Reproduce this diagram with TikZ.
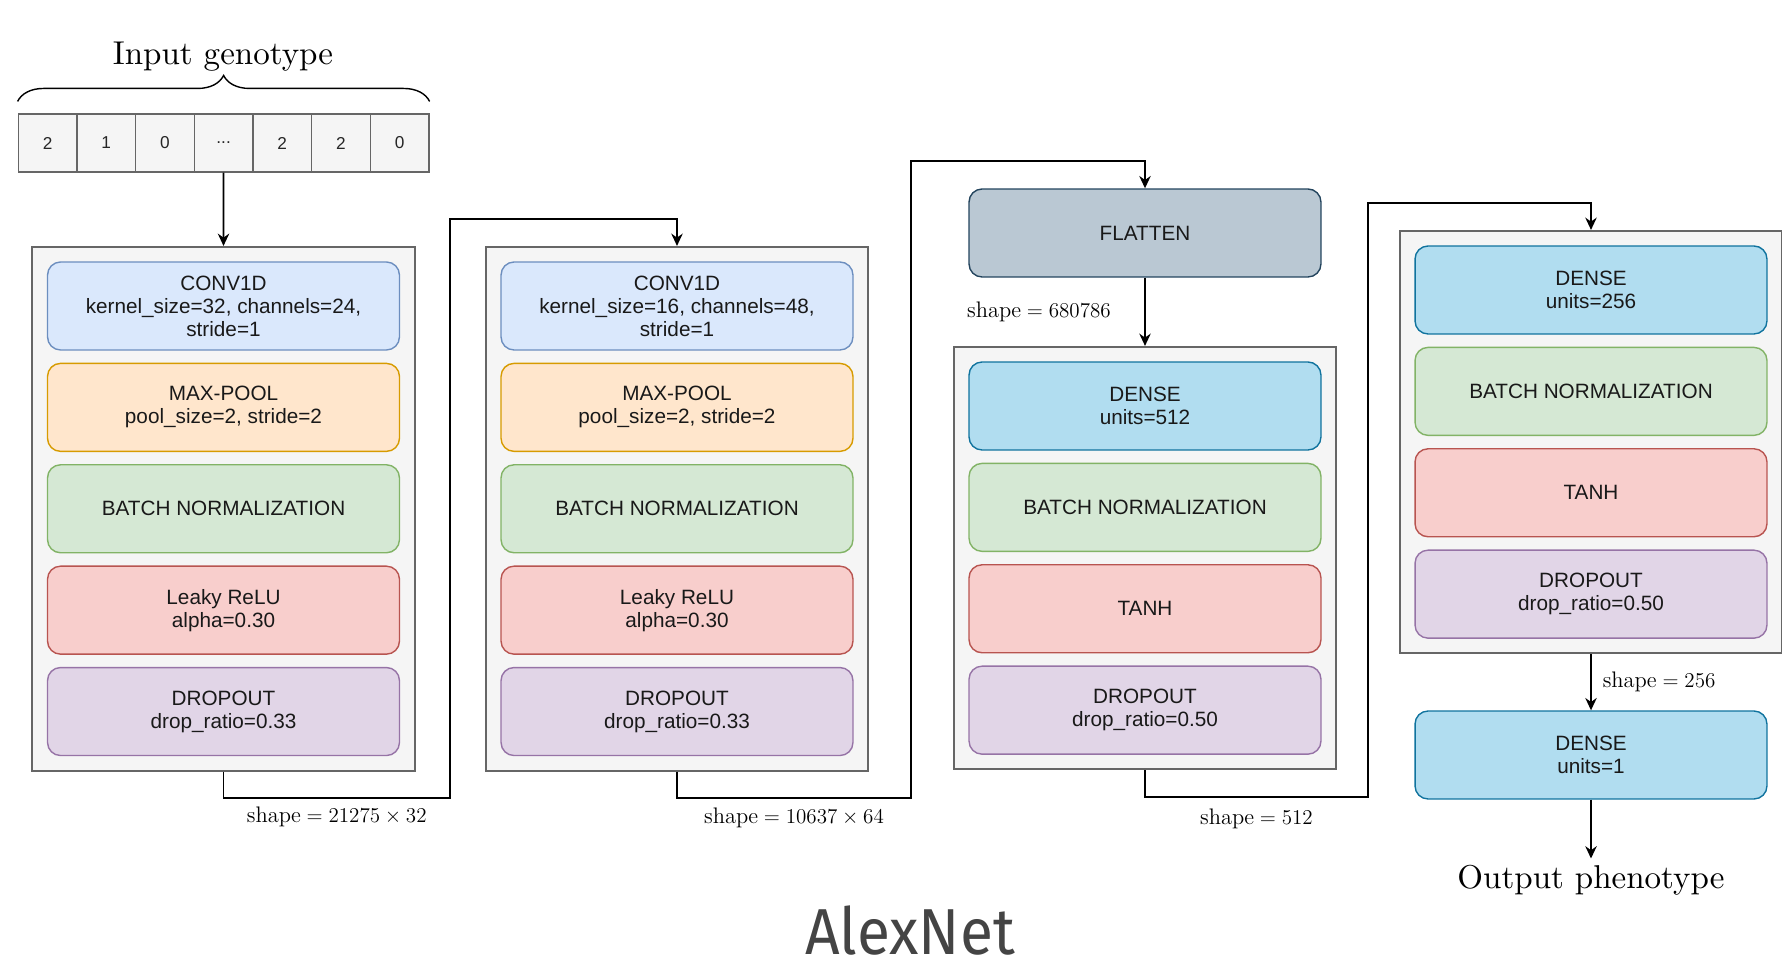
\documentclass[tikz,border=0pt]{standalone}
\usepackage{graphicx}
\usepackage{fontspec}
\setsansfont{Liberation Sans}
\newfontfamily\titlefont{Fira Sans}
\newfontfamily\bigserif{lmroman10-regular.otf}
\usetikzlibrary{positioning, fit, backgrounds, arrows.meta, decorations.pathreplacing}

\definecolor{convfill}{HTML}{DAE8FC}  \definecolor{convline}{HTML}{6C8EBF}
\definecolor{poolfill}{HTML}{FFE6CC}  \definecolor{poolline}{HTML}{D79B00}
\definecolor{bnfill}{HTML}{D5E8D4}    \definecolor{bnline}{HTML}{82B366}
\definecolor{actfill}{HTML}{F8CECC}   \definecolor{actline}{HTML}{B85450}
\definecolor{dropfill}{HTML}{E1D5E7}  \definecolor{dropline}{HTML}{9673A6}
\definecolor{densefill}{HTML}{B1DDF0} \definecolor{denseline}{HTML}{10739E}
\definecolor{flatfill}{HTML}{BAC8D3}  \definecolor{flatline}{HTML}{23445D}
\definecolor{groupfill}{HTML}{F5F5F5} \definecolor{groupline}{HTML}{666666}
\definecolor{titlegray}{HTML}{444444}

% the elided middle of the genotype vector
\newcommand\genegap{...}

\tikzset{
    layer/.style={draw, rounded corners=0.26cm, line width=0.8pt,
        minimum width=7.04cm, minimum height=1.76cm, align=center,
        text=black!90, font=\sffamily\fontsize{11.8}{13.1}\selectfont},
    conv/.style={layer, fill=convfill, draw=convline},
    pool/.style={layer, fill=poolfill, draw=poolline},
    bnorm/.style={layer, fill=bnfill, draw=bnline},
    act/.style={layer, fill=actfill, draw=actline},
    drop/.style={layer, fill=dropfill, draw=dropline},
    dense/.style={layer, fill=densefill, draw=denseline},
    flat/.style={layer, fill=flatfill, draw=flatline},
    group/.style={draw=groupline, fill=groupfill, line width=1pt, inner sep=0.29cm},
    gene/.style={draw=groupline, fill=groupfill, line width=0.8pt,
        minimum width=1.173cm, minimum height=1.154cm, text=black!85,
        font=\sffamily\fontsize{9.8}{12}\selectfont},
    wire/.style={->, line width=1pt},
    shapelbl/.style={font=\fontsize{12.8}{14}\selectfont, text=black},
    bigtxt/.style={font=\bigserif\fontsize{18.8}{22}\selectfont}
}

\begin{document}
\begin{tikzpicture}[x=0.02cm, y=-0.02cm, >={Stealth[length=7pt, width=6.5pt]}, node distance=0.24cm]
    \useasboundingbox (0,0) rectangle (1782,972);

    % input genotype
    \foreach \v [count=\i] in {2,1,0,\genegap,2,2,0}
        \node[gene] (gene\i) at ({47.6+58.67*(\i-1)},143) {\v};
    \draw[decorate, decoration={brace, amplitude=0.52cm}, line width=0.8pt]
        ([yshift=0.24cm]gene1.north west) -- ([yshift=0.24cm]gene7.north east);
    \node[bigtxt, anchor=base] (intxt) at (223,65) {Input genotype};

    % conv block 1
    \node[conv] (c1conv) at (223.5,306) {CONV1D\\kernel\_size=32, channels=24,\\stride=1};
    \node[pool, below=of c1conv] (c1pool) {MAX-POOL\\pool\_size=2, stride=2};
    \node[bnorm, below=of c1pool] (c1bn) {BATCH NORMALIZATION};
    \node[act, below=of c1bn] (c1act) {Leaky ReLU\\alpha=0.30};
    \node[drop, below=of c1act] (c1drop) {DROPOUT\\drop\_ratio=0.33};

    % conv block 2
    \node[conv] (c2conv) at (677,306) {CONV1D\\kernel\_size=16, channels=48,\\stride=1};
    \node[pool, below=of c2conv] (c2pool) {MAX-POOL\\pool\_size=2, stride=2};
    \node[bnorm, below=of c2pool] (c2bn) {BATCH NORMALIZATION};
    \node[act, below=of c2bn] (c2act) {Leaky ReLU\\alpha=0.30};
    \node[drop, below=of c2act] (c2drop) {DROPOUT\\drop\_ratio=0.33};

    % flatten + dense block 1
    \node[flat] (flat) at (1145,233) {FLATTEN};
    \node[dense] (d1dense) at (1145,406) {DENSE\\units=512};
    \node[bnorm, below=of d1dense] (d1bn) {BATCH NORMALIZATION};
    \node[act, below=of d1bn] (d1act) {TANH};
    \node[drop, below=of d1act] (d1drop) {DROPOUT\\drop\_ratio=0.50};

    % dense block 2
    \node[dense] (d2dense) at (1591,290) {DENSE\\units=256};
    \node[bnorm, below=of d2dense] (d2bn) {BATCH NORMALIZATION};
    \node[act, below=of d2bn] (d2act) {TANH};
    \node[drop, below=of d2act] (d2drop) {DROPOUT\\drop\_ratio=0.50};

    % output
    \node[dense] (outdense) at (1591,755) {DENSE\\units=1};
    \node[bigtxt, anchor=base] (outtxt) at (1591,888) {Output phenotype};

    \begin{scope}[on background layer]
        \node[group, fit=(c1conv)(c1drop)] (blk1) {};
        \node[group, fit=(c2conv)(c2drop)] (blk2) {};
        \node[group, fit=(d1dense)(d1drop)] (blk3) {};
        \node[group, fit=(d2dense)(d2drop)] (blk4) {};
    \end{scope}

    \coordinate (k1a) at (450,798);
    \coordinate (k1b) at (450,219);
    \coordinate (k2a) at (911,798);
    \coordinate (k2b) at (911,161);
    \coordinate (k3a) at (1368,797);
    \coordinate (k3b) at (1368,203);

    % connectors
    \draw[wire] (gene4.south) -- (blk1.north);
    \draw[wire] (blk1.south) |- node[shapelbl, pos=0.75, below=0.04cm] (s1) {$\mathrm{shape}=21275\times32$}
        (k1a) -- (k1b) -| (blk2.north);
    \draw[wire] (blk2.south) |- node[shapelbl, pos=0.75, below=0.06cm] (s2) {$\mathrm{shape}=10637\times64$}
        (k2a) -- (k2b) -| (flat.north);
    \draw[wire] (flat.south) -- node[shapelbl, left=0.55cm] (s3) {$\mathrm{shape}=680786$} (blk3.north);
    \draw[wire] (blk3.south) |- node[shapelbl, pos=0.75, below=0.1cm] (s4) {$\mathrm{shape}=512$}
        (k3a) -- (k3b) -| (blk4.north);
    \draw[wire] (blk4.south) -- node[shapelbl, right=0.1cm] (s5) {$\mathrm{shape}=256$} (outdense.north);
    \draw[wire] (outdense.south) -- (outtxt.north);

    \node[anchor=base, text=titlegray, inner sep=0] (title) at (910,954)
        {\scalebox{0.93}[1]{\titlefont\fontsize{37}{44}\selectfont AlexNet}};
\end{tikzpicture}
\end{document}
